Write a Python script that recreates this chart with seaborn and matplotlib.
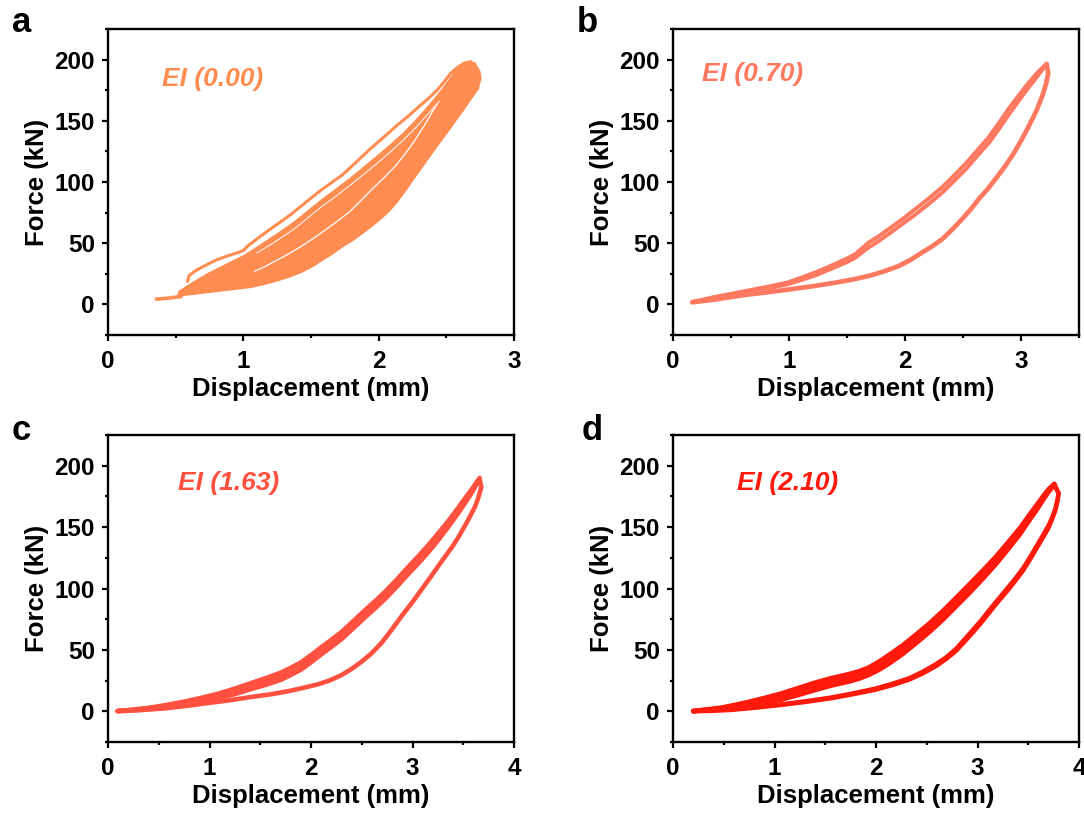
import matplotlib
matplotlib.use("Agg")
import matplotlib.pyplot as plt
import seaborn as sns
from matplotlib.ticker import MultipleLocator

# ---------------- data ----------------
# Panel a : EI (0.00) -- dense band of many overlapping cycles
a_band_up_x = [0.52, 0.53, 0.608, 0.732, 0.882, 1.007, 1.095, 1.182, 1.282, 1.382, 1.482, 1.582,
               1.682, 1.782, 1.881, 1.981, 2.081, 2.181, 2.270, 2.356, 2.420, 2.481, 2.530,
               2.581, 2.620, 2.656, 2.706, 2.743, 2.750]
a_band_up_f = [7.0, 10.4, 15.9, 24.2, 32.5, 39.4, 45.5, 51.9, 59.3, 67.1, 76.0, 85.0,
               93.2, 101.6, 110.5, 119.6, 129.0, 138.9, 149.0, 159.7, 168.0, 176.3, 184.0,
               191.5, 195.5, 197.8, 197.0, 190.1, 184.6]
a_band_lo_x = [2.731, 2.668, 2.625, 2.581, 2.531, 2.481, 2.431, 2.381, 2.318, 2.256, 2.193,
               2.131, 2.070, 2.007, 1.944, 1.881, 1.810, 1.732, 1.660, 1.582, 1.510,
               1.432, 1.345, 1.257, 1.157, 1.057, 0.930, 0.807, 0.670, 0.533]
a_band_lo_f = [176.3, 166.6, 159.5, 152.8, 145.0, 137.5, 130.0, 122.3, 112.5, 103.0, 93.0,
               83.7, 76.0, 69.8, 64.0, 58.8, 53.0, 47.7, 42.0, 36.6, 31.5,
               27.0, 23.2, 20.0, 17.0, 14.5, 12.8, 11.2, 9.4, 7.6]
a_outer_x = [0.588, 0.598, 0.640, 0.683, 0.745, 0.807, 0.880, 0.957, 1.000, 1.032, 1.107, 1.182,
             1.270, 1.357, 1.457, 1.557, 1.645, 1.732, 1.832, 1.932, 2.031, 2.131, 2.220,
             2.306, 2.370, 2.431, 2.481, 2.531, 2.581, 2.631, 2.680]
a_outer_f = [18.7, 23.4, 27.0, 29.7, 33.3, 36.6, 39.5, 42.2, 44.0, 47.7, 54.0, 60.2,
             67.0, 74.0, 83.0, 91.9, 99.0, 105.8, 116.0, 126.5, 136.0, 145.8, 154.0,
             162.4, 168.5, 174.9, 181.5, 188.7, 193.5, 197.0, 198.4]
a_tail_x = [0.358, 0.45, 0.54]
a_tail_f = [4.3, 5.2, 6.4]
a_gap1_x = [1.082, 1.170, 1.257, 1.345, 1.432, 1.532, 1.632, 1.707, 1.782, 1.870, 1.956,
            2.045, 2.131, 2.206, 2.281, 2.356, 2.431]
a_gap1_f = [27.0, 31.5, 36.6, 42.0, 47.7, 55.0, 62.9, 69.0, 75.4, 85.0, 94.7,
            104.0, 114.0, 124.5, 136.2, 149.5, 163.8]
a_gap2_x = [1.10, 1.24, 1.38, 1.48, 1.58, 1.68, 1.78, 1.88, 1.98, 2.08, 2.18, 2.27, 2.36, 2.45]
a_gap2_f = [42.0, 51.5, 62.0, 71.0, 80.0, 88.0, 96.5, 105.5, 114.5, 124.0, 134.0, 144.0, 155.0, 166.0]

# Panel b : EI (0.70)
b_up_x = [0.166, 0.354, 0.500, 0.643, 0.820, 0.991, 1.110, 1.223, 1.325, 1.425, 1.500,
          1.570, 1.686, 1.770, 1.860, 1.975, 2.091, 2.210, 2.323, 2.425, 2.525, 2.625,
          2.728, 2.815, 2.902, 2.975, 3.047, 3.110, 3.163, 3.221]
b_up1_f = [2.0, 6.0, 8.6, 11.3, 14.5, 18.0, 22.0, 26.0, 30.0, 34.3, 37.5,
           41.0, 50.5, 55.5, 61.6, 69.5, 78.0, 87.0, 96.0, 105.5, 115.3, 126.0,
           137.4, 149.0, 161.0, 170.0, 179.0, 186.0, 191.5, 196.5]
b_up2_f = [2.0, 4.8, 7.3, 9.8, 13.0, 16.5, 20.0, 23.5, 27.5, 31.5, 34.5,
           38.0, 46.5, 51.5, 57.5, 65.5, 73.5, 82.5, 91.5, 101.0, 110.5, 121.5,
           132.5, 144.0, 156.0, 165.5, 175.0, 182.5, 189.0, 196.5]
b_lo_x = [3.221, 3.235, 3.215, 3.191, 3.134, 3.090, 3.047, 2.990, 2.931, 2.860, 2.786,
          2.715, 2.641, 2.570, 2.496, 2.410, 2.323, 2.235, 2.149, 2.050, 1.946, 1.820,
          1.686, 1.540, 1.396, 1.200, 0.991, 0.820, 0.643, 0.500, 0.354, 0.166]
b_lo_f = [196.5, 188.8, 180.0, 172.2, 158.4, 150.0, 141.9, 132.0, 122.5, 112.5, 103.2,
          94.5, 86.6, 78.0, 70.1, 61.5, 53.5, 47.5, 42.5, 36.5, 31.4, 27.0,
          23.2, 20.2, 17.7, 14.8, 12.1, 10.0, 8.0, 6.0, 3.9, 1.7]

# Panel c : EI (1.63)
c_up_x = [0.094, 0.25, 0.409, 0.575, 0.741, 0.907, 1.073, 1.240, 1.405, 1.555, 1.704,
          1.800, 1.902, 2.000, 2.10, 2.20, 2.30, 2.415, 2.533, 2.632, 2.732, 2.850,
          2.964, 3.065, 3.163, 3.265, 3.363, 3.450, 3.529, 3.585, 3.628, 3.661]
c_up1_f = [0.3, 1.5, 3.0, 5.2, 7.8, 10.8, 14.1, 18.3, 22.9, 27.1, 31.6,
           35.5, 39.9, 45.8, 52.2, 58.3, 64.6, 73.4, 82.5, 89.8, 97.6, 107.8,
           118.2, 127.0, 136.1, 146.1, 156.2, 165.8, 174.9, 181.0, 186.3, 190.0]
c_up2_f = [0.3, 1.2, 2.5, 4.4, 6.6, 9.2, 12.1, 16.0, 20.4, 24.3, 28.6,
           32.5, 36.9, 42.8, 49.2, 55.3, 61.6, 70.4, 79.5, 86.8, 94.6, 104.8,
           115.2, 124.0, 133.1, 143.3, 153.7, 163.5, 172.9, 179.5, 185.3, 189.5]
c_up3_f = [0.3, 0.9, 2.0, 3.6, 5.4, 7.6, 10.1, 13.7, 17.9, 21.5, 25.6,
           29.5, 33.9, 39.8, 46.2, 52.3, 58.6, 67.4, 76.5, 83.8, 91.6, 101.8,
           112.2, 121.0, 130.1, 140.5, 151.2, 161.2, 170.9, 178.0, 184.3, 189.0]
c_lo_x = [3.661, 3.678, 3.645, 3.615, 3.578, 3.540, 3.495, 3.450, 3.396, 3.330, 3.263,
          3.180, 3.097, 3.000, 2.898, 2.800, 2.699, 2.600, 2.500, 2.400, 2.300, 2.180,
          2.068, 1.920, 1.770, 1.600, 1.405, 1.200, 0.973, 0.780, 0.575, 0.330, 0.094]
c_lo_f = [189.5, 182.6, 172.9, 166.5, 160.6, 154.5, 148.0, 141.5, 134.5, 127.0, 119.3,
          109.5, 100.1, 89.0, 78.1, 67.0, 56.1, 47.5, 40.5, 34.5, 29.5, 25.0,
          22.0, 19.0, 16.3, 13.8, 11.6, 9.0, 6.6, 4.5, 2.5, 1.0, 0.0]

# Panel d : EI (2.10)
d_up_x = [0.20, 0.33, 0.471, 0.60, 0.736, 0.90, 1.067, 1.230, 1.399, 1.560, 1.730,
          1.830, 1.928, 2.027, 2.127, 2.260, 2.392, 2.525, 2.657, 2.790, 2.922, 3.055,
          3.187, 3.303, 3.419, 3.500, 3.584, 3.645, 3.70, 3.757]
d_up1_f = [0.2, 1.5, 2.9, 5.0, 7.5, 10.8, 14.5, 18.8, 23.3, 27.0, 30.2,
           32.5, 35.6, 40.3, 45.8, 53.5, 62.3, 71.5, 81.5, 92.5, 103.5, 114.8,
           126.4, 137.8, 149.3, 158.7, 168.1, 175.0, 180.8, 185.2]
d_up2_f = [0.2, 1.2, 2.4, 4.0, 6.0, 8.8, 12.0, 16.0, 20.3, 24.0, 27.2,
           29.5, 32.6, 37.0, 42.3, 50.0, 58.8, 68.0, 78.0, 89.0, 100.0, 111.5,
           123.4, 135.0, 146.8, 156.5, 166.1, 173.5, 179.8, 184.7]
d_up3_f = [0.2, 0.9, 1.9, 3.0, 4.5, 6.8, 9.5, 13.2, 17.3, 21.0, 24.2,
           26.5, 29.6, 33.7, 38.8, 46.5, 55.3, 64.5, 74.5, 85.5, 96.5, 108.2,
           120.4, 132.2, 144.3, 154.3, 164.1, 172.0, 178.8, 184.2]
d_lo_x = [3.757, 3.80, 3.785, 3.766, 3.735, 3.70, 3.645, 3.584, 3.52, 3.452, 3.37,
          3.286, 3.20, 3.12, 3.04, 2.955, 2.87, 2.789, 2.69, 2.591, 2.46, 2.326,
          2.16, 1.995, 1.78, 1.564, 1.32, 1.067, 0.82, 0.57, 0.38, 0.20]
d_lo1_f = [184.7, 177.0, 170.0, 163.3, 156.5, 149.5, 141.5, 133.0, 124.0, 115.0, 106.0,
           97.3, 89.0, 80.8, 72.5, 64.3, 56.5, 49.2, 42.5, 36.8, 30.8, 25.8,
           21.3, 17.6, 14.0, 10.7, 7.8, 5.2, 3.0, 1.1, 0.4, 0.0]
d_lo2_f = [184.7, 178.0, 171.5, 165.0, 158.0, 151.5, 143.5, 135.0, 126.0, 117.0, 108.0,
           99.5, 91.0, 83.0, 74.5, 66.5, 58.5, 51.0, 44.0, 38.5, 32.3, 27.0,
           22.5, 18.6, 14.8, 11.4, 8.4, 5.8, 3.5, 1.5, 0.7, 0.2]

panel_letters = ["a", "b", "c", "d"]
ei_labels = ["EI (0.00)", "EI (0.70)", "EI (1.63)", "EI (2.10)"]
colors = ["#FF8C50", "#FF7860", "#FF5040", "#FF1A0C"]
x_limits = [3, 3.5, 4, 4]

# ---------------- style ----------------
sns.set_theme(style="ticks")
plt.rcParams["font.family"] = ["Liberation Sans", "DejaVu Sans"]
plt.rcParams["font.weight"] = "bold"
plt.rcParams["axes.labelweight"] = "bold"
plt.rcParams["text.color"] = "black"
plt.rcParams["axes.labelcolor"] = "black"
plt.rcParams["xtick.color"] = "black"
plt.rcParams["ytick.color"] = "black"
plt.rcParams["xtick.labelcolor"] = "black"
plt.rcParams["ytick.labelcolor"] = "black"

fig = plt.figure(figsize=(10.84, 8.17), dpi=100)
W, H = 1084, 817
boxes = [(108, 29, 514, 335), (673, 29, 1079, 335),
         (108, 435, 514, 742), (673, 435, 1079, 742)]
axes = []
for (l, t, r, b) in boxes:
    axes.append(fig.add_axes([l / W, 1 - b / H, (r - l) / W, (b - t) / H]))


def line(ax, x, f, color, lw):
    sns.lineplot(x=x, y=f, sort=False, estimator=None, color=color, lw=lw,
                 ax=ax, legend=False, solid_capstyle="round", solid_joinstyle="round")


# panel a
ax = axes[0]
ax.fill(a_band_up_x + a_band_lo_x, a_band_up_f + a_band_lo_f, facecolor=colors[0], lw=2.0,
        edgecolor=colors[0], joinstyle="round", zorder=2)
line(ax, a_tail_x, a_tail_f, colors[0], 2.6)
line(ax, a_outer_x, a_outer_f, colors[0], 2.2)
line(ax, a_gap1_x, a_gap1_f, "white", 0.9)
line(ax, a_gap2_x, a_gap2_f, "white", 0.7)

# panel b
ax = axes[1]
line(ax, b_up_x, b_up1_f, colors[1], 2.8)
line(ax, b_up_x, b_up2_f, colors[1], 2.8)
line(ax, b_lo_x, b_lo_f, colors[1], 3.4)

# panel c
ax = axes[2]
for fs in [c_up1_f, c_up2_f, c_up3_f]:
    line(ax, c_up_x, fs, colors[2], 3.2)
line(ax, c_lo_x, c_lo_f, colors[2], 3.3)

# panel d
ax = axes[3]
for fs in [d_up1_f, d_up2_f, d_up3_f]:
    line(ax, d_up_x, fs, colors[3], 3.4)
line(ax, d_lo_x, d_lo1_f, colors[3], 3.2)
line(ax, d_lo_x, d_lo2_f, colors[3], 3.0)

ei_pos = [(0.134, 0.837), (0.071, 0.854), (0.172, 0.843), (0.157, 0.843)]
for i, ax in enumerate(axes):
    ax.set_xlim(0, x_limits[i])
    ax.set_ylim(-25, 225)
    ax.xaxis.set_major_locator(MultipleLocator(1))
    ax.xaxis.set_minor_locator(MultipleLocator(0.5))
    ax.yaxis.set_major_locator(MultipleLocator(50))
    ax.yaxis.set_minor_locator(MultipleLocator(25))
    for s in ax.spines.values():
        s.set_linewidth(1.7)
        s.set_color("black")
        s.set_visible(True)
    ax.tick_params(which="major", direction="out", length=4.5, width=1.6,
                   labelsize=17.5, color="black", labelcolor="black")
    ax.tick_params(which="minor", direction="out", length=2.5, width=1.6, color="black")
    ax.tick_params(axis="x", which="major", pad=6)
    ax.tick_params(axis="y", which="major", pad=5)
    for lab in ax.get_xticklabels() + ax.get_yticklabels():
        lab.set_fontweight("bold")
    ax.set_xlabel("Displacement (mm)", fontsize=18.5, fontweight="bold", labelpad=3,
                  color="black")
    ax.set_ylabel("Force (kN)", fontsize=18.5, fontweight="bold", labelpad=4, color="black")
    ax.text(ei_pos[i][0], ei_pos[i][1], ei_labels[i], transform=ax.transAxes,
            fontsize=19, fontweight="bold", style="italic", color=colors[i],
            ha="left", va="center")
    ax.grid(False)
    ax.set_facecolor("white")

letter_pos = [(12, 32), (577, 32), (12, 440), (582, 440)]
for (px, py), letter in zip(letter_pos, panel_letters):
    fig.text(px / W, 1 - py / H, letter, fontsize=25, fontweight="bold",
             ha="left", va="baseline", color="black")

fig.savefig("out.png", dpi=100, facecolor="white")
